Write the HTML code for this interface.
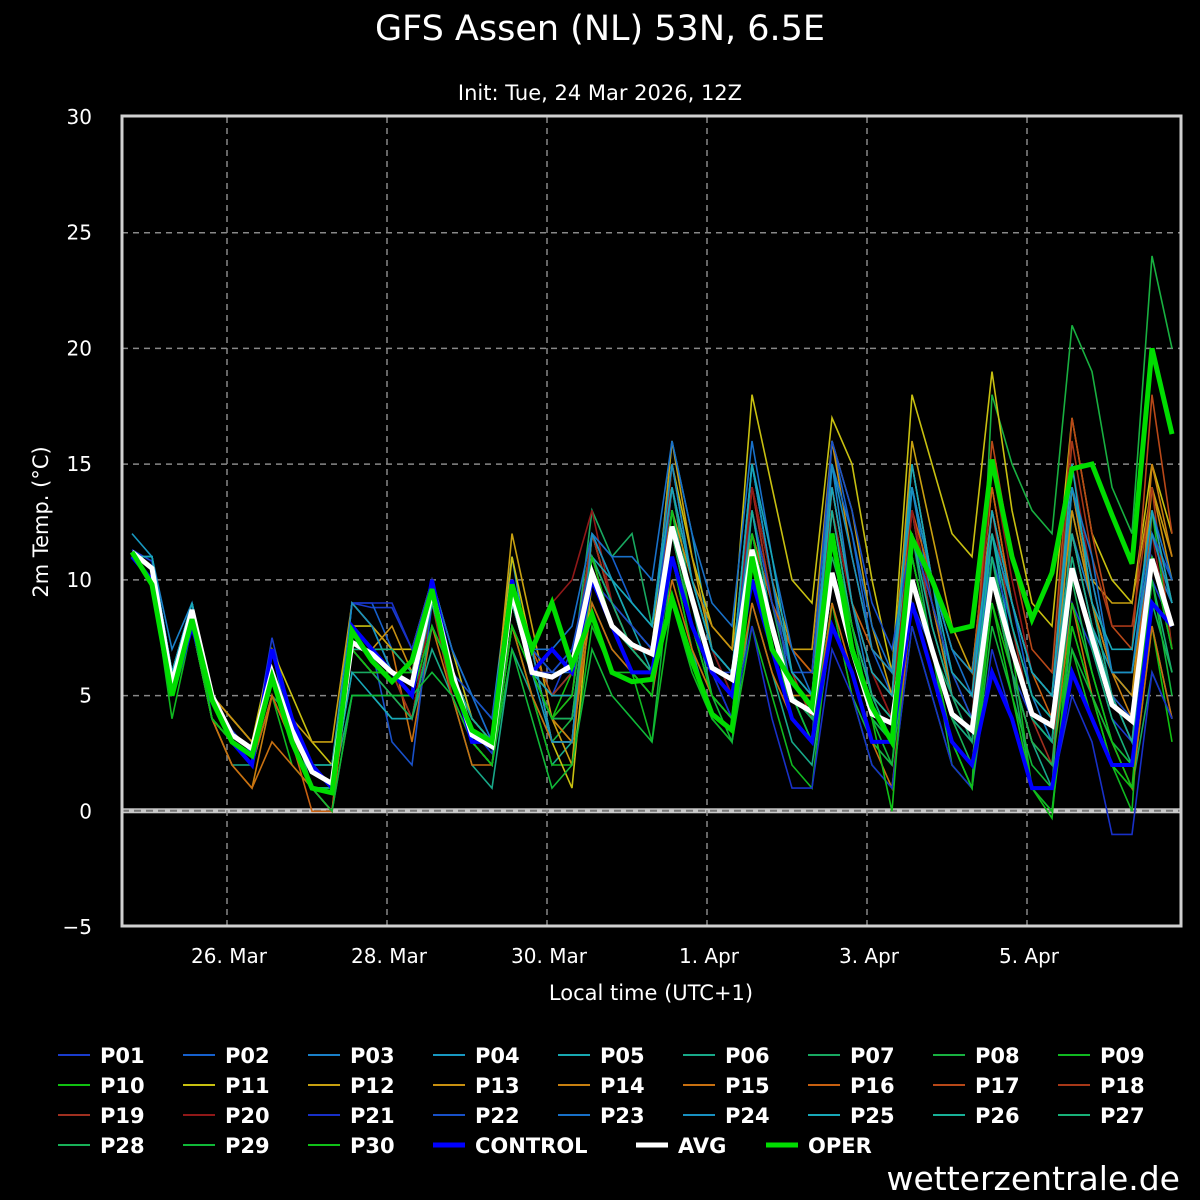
<!DOCTYPE html>
<html><head><meta charset="utf-8">
<style>
html,body{margin:0;padding:0;background:#000;}
svg{display:block;font-family:"DejaVu Sans","Liberation Sans",sans-serif;}
</style></head>
<body>
<svg id="chart" width="1200" height="1200" viewBox="0 0 1200 1200">
<rect x="0" y="0" width="1200" height="1200" fill="#000"/>
<text x="600" y="40" text-anchor="middle" fill="#fff" font-size="35">GFS Assen (NL) 53N, 6.5E</text>
<text x="600" y="100" text-anchor="middle" fill="#fff" font-size="21">Init: Tue, 24 Mar 2026, 12Z</text>
<text transform="translate(48,522) rotate(-90)" text-anchor="middle" fill="#fff" font-size="21">2m Temp. (°C)</text>
<text x="651" y="1000" text-anchor="middle" fill="#fff" font-size="21">Local time (UTC+1)</text>
<text x="1180" y="1190" text-anchor="end" fill="#fff" font-size="33">wetterzentrale.de</text>
<g id="grid"></g>
<g id="series"></g>
<rect x="122" y="116" width="1059" height="810" fill="none" stroke="#d0d0d0" stroke-width="3"/>
<g id="legend"></g>
</svg>
<script>
const yTicks=[30,25,20,15,10,5,0,-5];
const xTickLabels=["26. Mar","28. Mar","30. Mar","1. Apr","3. Apr","5. Apr"];
const xTickIndex=[4.75,12.75,20.75,28.75,36.75,44.75];
const members=[
[11.3,10.8,6,9,5,3.5,2.5,7.5,4,2,1,9,8.8,8.8,7,10,6,3.5,2.5,10,6,5,7,10,8,7,7,12,9,6,6,11,7,4,3,10,7,4,3,9,7,4,3,10,6,4,3,9,7,4,3,10,8],
[11,11,6,9,4,3,2,7,3,1,1,9,9,7,6,10,7,4,3,10,7,6,6,12,11,9,8,15,10,7,6,15,10,5,4,16,12,7,5,15,10,6,4,13,9,5,4,14,10,6,5,12,10],
[11,11,7,9,5,4,3,6,4,2,1,8,7,6,5,9,6,3,3,9,6,5,6,11,9,7,6,14,9,6,4,13,8,5,3,15,9,5,3,14,9,5,3,12,8,5,3,12,9,6,5,11,9],
[12,11,6,9,5,3,2,7,4,2,2,9,8,6,5,10,7,5,4,11,6,3,3,12,10,8,7,16,12,7,5,15,10,6,5,14,9,6,5,13,8,5,4,11,7,4,3,12,8,6,5,12,10],
[11,10,5,8,4,3,2,6,3,1,1,7,6,6,5,9,6,4,3,10,7,3,3,12,10,8,6,13,9,6,5,12,8,5,4,12,8,5,4,14,10,5,4,12,7,4,3,14,9,5,3,11,7],
[11,10,5,8,4,2,2,5,3,1,1,5,5,4,4,7,5,2,1,7,5,2,3,9,7,6,5,11,7,4,3,9,6,3,2,8,6,3,2,9,6,3,1,10,6,3,1,13,9,5,3,8,4],
[11,10,5,8,4,3,2,5,4,2,1,6,6,5,4,8,6,3,2,9,6,5,6,13,11,12,8,14,9,6,5,13,9,5,3,10,7,4,3,12,7,5,3,11,6,1,0,8,5,2,1,6,4],
[11,10,5,8,4,3,2,5,3,2,1,8,7,6,6,9,6,3,3,8,5,3,4,10,9,7,6,12,8,5,4,10,7,4,3,9,5,3,2,10,7,2,1,18,15,13,12,21,19,14,12,24,20],
[11,10,4,8,4,3,2,5,2,1,0,5,5,5,5,9,6,3,2,8,5,2,2,8,6,6,3,9,6,4,3,8,5,2,1,9,5,2,1,8,5,2,1,11,7,1,0,7,4,2,0,13,7],
[11,10,5,8,4,3,2,6,3,1,1,7,7,6,6,9,6,3,3,8,6,4,6,12,9,7,6,11,7,5,4,11,7,4,3,10,7,4,3,9,6,3,2,9,6,3,2,8,5,2,1,8,3],
[11,10,6,9,5,4,3,7,5,3,2,8,8,7,7,10,7,4,3,11,7,3,1,10,8,7,6,15,11,8,7,18,14,10,9,17,15,10,6,18,15,12,11,19,13,9,8,17,12,10,9,15,12],
[11,10,6,8,5,4,3,6,4,3,3,9,8,7,6,10,6,4,3,12,8,4,2,12,9,8,7,16,11,7,6,14,10,7,7,16,13,8,5,16,12,8,6,14,9,6,5,14,10,9,9,14,11],
[11,10,6,8,5,4,3,6,4,2,1,8,7,8,6,9,6,4,3,9,6,4,3,11,9,7,7,13,10,8,7,12,9,7,6,16,11,7,6,15,10,7,6,13,9,6,5,13,9,6,5,14,10],
[11,10,5,8,4,2,1,5,3,1,0,7,6,6,4,9,6,3,2,9,6,4,3,10,8,6,6,12,9,6,5,11,8,5,5,13,8,5,4,12,9,5,4,13,9,6,5,14,9,6,4,15,11],
[11,10,5,8,4,2,1,3,2,1,0,7,7,7,3,8,5,2,2,8,5,3,3,9,7,6,5,10,7,5,4,9,6,4,3,9,6,3,1,9,6,3,2,10,6,3,2,9,5,3,1,8,4],
[11,10,5,8,4,3,2,5,3,0,0,8,7,6,5,9,6,4,3,10,7,5,5,11,8,6,6,12,9,6,5,12,9,7,6,14,9,7,6,13,10,7,6,14,9,6,4,12,8,5,4,13,9],
[11,10,5,8,4,3,2,6,4,2,1,8,7,6,5,9,6,3,3,9,6,4,5,12,9,7,6,14,10,7,6,13,9,6,5,13,9,6,5,12,9,6,5,16,11,7,6,17,12,8,7,18,12],
[11,10,5,8,4,3,2,6,4,2,1,7,6,6,5,9,6,4,3,10,6,4,4,11,8,6,6,12,8,6,5,14,9,6,4,14,9,6,5,12,9,6,5,13,9,6,5,16,11,8,8,14,7],
[11,10,5,8,4,3,2,6,4,2,1,8,7,6,4,9,5,3,2,9,6,5,6,12,9,7,7,14,10,7,6,14,9,6,5,14,9,6,4,13,8,5,4,13,8,4,2,12,8,5,3,12,9],
[11,10,5,8,4,3,2,6,3,2,1,7,6,5,4,9,6,3,2,9,7,9,10,13,9,7,6,15,10,7,5,14,10,6,5,13,9,6,4,13,9,6,4,15,10,6,5,15,10,6,6,12,7],
[11,10,5,8,5,3,2,7,4,2,1,9,9,9,7,10,7,5,3,9,6,6,7,10,9,8,7,11,8,6,4,8,4,1,1,7,5,2,1,8,5,2,1,7,4,1,1,5,3,-1,-1,6,4],
[11,11,6,9,5,3,2,7,4,2,1,8,7,3,2,9,6,5,4,10,7,6,7,11,9,8,7,14,10,7,6,13,9,6,6,16,13,9,7,12,9,6,4,11,8,5,4,11,7,5,4,12,10],
[11,11,6,9,5,3,2,7,4,2,1,8,7,6,5,10,7,5,3,10,7,7,8,12,11,11,10,16,12,9,8,16,11,7,5,15,12,8,6,14,10,7,5,12,9,6,5,14,11,6,6,13,10],
[11,11,6,9,5,3,2,7,4,2,1,9,8,6,5,9,6,4,3,10,7,3,3,12,10,9,8,15,10,7,6,15,10,6,5,15,11,7,6,14,10,7,6,12,9,6,5,14,10,6,6,12,9],
[11,11,6,9,5,3,2,7,4,2,1,6,5,4,4,8,6,3,2,9,6,5,5,11,10,9,8,14,10,7,6,15,11,6,5,14,9,6,5,15,10,6,5,13,9,6,5,15,9,7,7,13,9],
[11,10,5,8,5,3,2,6,4,2,2,8,7,6,5,9,6,4,3,9,6,4,4,10,8,7,6,13,9,6,5,13,8,5,4,13,8,5,4,12,8,5,4,12,8,5,4,12,8,5,3,11,8],
[11,10,5,8,4,3,2,6,4,1,1,7,7,7,6,9,6,3,3,9,6,4,4,11,9,7,6,13,9,5,4,12,8,4,3,12,8,5,3,11,7,4,3,11,7,4,3,11,7,4,2,10,6],
[11,10,5,8,4,3,2,6,4,2,1,7,6,5,4,8,6,3,2,8,6,4,4,10,8,6,5,12,8,5,4,11,8,5,4,11,8,4,3,11,7,4,2,10,6,3,2,10,6,3,2,9,6],
[11,10,5,8,4,3,2,6,3,1,0,5,5,5,5,6,5,3,2,7,4,1,2,7,5,4,3,11,8,5,3,11,8,5,3,10,7,4,2,11,7,3,1,8,5,2,1,7,5,3,2,10,5],
[11,10,5,8,4,3,2,6,4,2,1,7,6,6,5,8,6,3,2,8,6,4,5,11,8,6,5,13,8,5,4,12,8,4,3,12,8,4,0,11,7,3,1,9,5,1,-0.3,9,6,3,1,11,7]
];
const memberColors=["#1a3ccc","#1660cc","#1a80c8","#1898c0","#18a8b0","#18a888","#18a860","#18b040","#10b820",
"#10c010","#c8c010","#c8a010","#c89010","#c88010","#c87010","#c86010","#b84818","#a83818",
"#a03020","#901818","#1830c8","#1850c8","#1870c8","#1890c0","#18a8b8","#18b098","#18b078","#18b058","#10b838","#10c018"];
const control=[11,10,5,8,5,3,2,7,4,2,1,8,7,6,5,10,6,3,3,10,6,7,6,10,8,6,6,11,8,6,5,10,7,4,3,8,6,3,3,9,6,3,2,6,4,1,1,6,4,2,2,9,8];
const avg=[11.2,10.5,5.5,8.7,5,3.3,2.7,6,3.5,1.7,1.2,7.3,6.8,6,5.5,9.5,6,3.3,2.8,9.5,6,5.8,6.3,10.3,8,7.2,6.8,12.3,9.2,6.2,5.7,11.3,8,4.8,4.3,10.3,7,4.2,3.8,10,7,4.2,3.5,10.1,7,4.2,3.7,10.5,7.5,4.6,3.9,10.9,8];
const oper=[11.2,9.8,5,8.3,4.8,3,2.4,5.8,3,1,0.8,7.8,6.5,5.6,6.5,9.6,5.6,3.5,3,9.8,7,9,6.3,8.5,6,5.6,5.7,9.2,6.5,4.2,3.5,11,7,5.6,4.5,12,7,4.5,3,11.8,10,7.8,8,15.2,11,8.3,10.3,14.8,15,12.8,10.7,20,16.3];

const NS="http://www.w3.org/2000/svg";
const X0=122,X1=1181,Y0=117,Y1=927,YMIN=-5,YMAX=30;
function xs(i){return 132+20*i;}
function ys(v){return Y1-(v-YMIN)/(YMAX-YMIN)*(Y1-Y0);}
function mk(tag,attrs,parent){const e=document.createElementNS(NS,tag);for(const k in attrs)e.setAttribute(k,attrs[k]);parent.appendChild(e);return e;}
const grid=document.getElementById('grid');
yTicks.forEach(v=>{
  const y=ys(v);
  if(v>YMIN&&v<YMAX&&v!==0){
    const l=mk('line',{x1:X0,x2:X1,y1:y,y2:y,stroke:'#888','stroke-width':1.5,'stroke-dasharray':'6,5'},grid);
    
    
  }
  const t=mk('text',{x:92,y:y+7,'text-anchor':'end',fill:'#fff','font-size':20},grid);
  t.textContent=(v<0?'\u2212'+(-v):v);
  
  
});
const z=ys(0);
const zb=mk('rect',{x:X0,y:z-3,width:X1-X0,height:5,fill:'#c8c8c8'},grid);


mk('line',{x1:X0,x2:X1,y1:z-0.5,y2:z-0.5,stroke:'#777','stroke-width':2,'stroke-dasharray':'7,5'},grid);
xTickIndex.forEach((ix,j)=>{
  const x=xs(ix);
  const l=mk('line',{x1:x,x2:x,y1:Y0,y2:Y1,stroke:'#888','stroke-width':1.5,'stroke-dasharray':'6,5'},grid);
  
  
  const t=mk('text',{x:x+2,y:963,'text-anchor':'middle',fill:'#fff','font-size':20},grid);
  t.textContent=xTickLabels[j];
  
  
});
const ser=document.getElementById('series');
function line(data,color,w,name){
  const d=data.map((v,i)=>(i?'L':'M')+xs(i).toFixed(1)+','+ys(v).toFixed(1)).join('');
  const p=mk('path',{d:d,fill:'none',stroke:color,'stroke-width':w,'stroke-linejoin':'miter'},ser);
  
  
}
members.forEach((m,i)=>line(m,memberColors[i],1.6,'member-line-p'+String(i+1).padStart(2,'0')));
line(control,'#0000ff',4,'control-line');
line(avg,'#ffffff',5,'avg-line');
line(oper,'#00dd00',5,'oper-line');
const leg=document.getElementById('legend');
const labels=[];
for(let i=0;i<30;i++)labels.push({t:'P'+String(i+1).padStart(2,'0'),c:memberColors[i],w:2});
labels.forEach((L,i)=>{
  const col=i%9,row=Math.floor(i/9);
  const x=58+125*col,y=1055+30*row;
  const g=mk('g',{},leg);
  
  
  mk('line',{x1:x,x2:x+32,y1:y,y2:y,stroke:L.c,'stroke-width':L.w},g);
  const t=mk('text',{x:x+42,y:y+8,fill:'#fff','font-size':21,'font-weight':'bold'},g);
  t.textContent=L.t;
});
[{t:'CONTROL',c:'#0000ff',x:433},{t:'AVG',c:'#ffffff',x:636},{t:'OPER',c:'#00dd00',x:766}].forEach(L=>{
  const y=1145;
  const g=mk('g',{},leg);
  
  
  mk('line',{x1:L.x,x2:L.x+32,y1:y,y2:y,stroke:L.c,'stroke-width':5},g);
  const t=mk('text',{x:L.x+42,y:y+8,fill:'#fff','font-size':21,'font-weight':'bold'},g);
  t.textContent=L.t;
});
</script>
</body></html>
